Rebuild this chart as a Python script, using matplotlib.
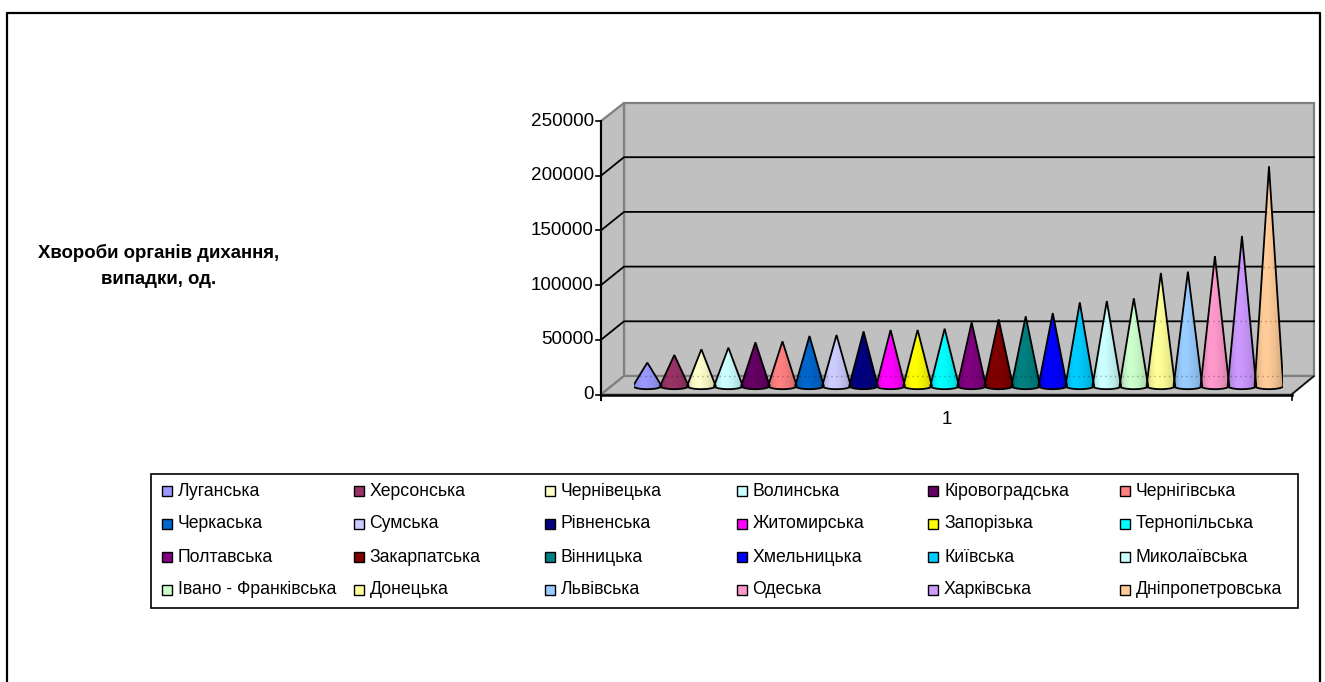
#!/usr/bin/env python3
import numpy as np
import matplotlib
matplotlib.use('Agg')
import matplotlib.pyplot as plt
from matplotlib.colors import to_rgb
from matplotlib.patches import Polygon, Rectangle

plt.rcParams['font.family'] = ['Liberation Sans', 'DejaVu Sans']

regions = ['Луганська', 'Херсонська', 'Чернівецька', 'Волинська', 'Кіровоградська', 'Чернігівська',
           'Черкаська', 'Сумська', 'Рівненська', 'Житомирська', 'Запорізька', 'Тернопільська',
           'Полтавська', 'Закарпатська', 'Вінницька', 'Хмельницька', 'Київська', 'Миколаївська',
           'Івано - Франківська', 'Донецька', 'Львівська', 'Одеська', 'Харківська', 'Дніпропетровська']
cases = [21400, 28400, 33600, 35100, 40000, 40900,
         45800, 46700, 50000, 51300, 51300, 52500,
         58300, 61000, 63800, 66800, 76600, 77800,
         80300, 103500, 104700, 119000, 137400, 201200]
colors = ['#9999ff', '#993366', '#ffffcc', '#ccffff', '#660066', '#ff8080',
          '#0066cc', '#ccccff', '#000080', '#ff00ff', '#ffff00', '#00ffff',
          '#800080', '#800000', '#008080', '#0000ff', '#00ccff', '#ccffff',
          '#ccffcc', '#ffff99', '#99ccff', '#ff99cc', '#cc99ff', '#ffcc99']
y_ticks = [0, 50000, 100000, 150000, 200000, 250000]
title_lines = ['Хвороби органів дихання,', 'випадки, од.']

W, H = 1325, 682
fig = plt.figure(figsize=(W / 100, H / 100), dpi=100, facecolor='white')

# pixel canvas for the frame, the 3d box and the legend
bg = fig.add_axes([0, 0, 1, 1])
bg.set_xlim(0, W)
bg.set_ylim(H, 0)
bg.axis('off')

bg.plot([7, 7, 1320, 1320], [H + 5, 13, 13, H + 5], color='black', lw=1.6)

# walls and floor
grey = '#c0c0c0'
edge = '#808080'
bg.add_patch(Polygon([(624, 103), (1314, 103), (1314, 376), (624, 376)], fc=grey, ec=edge, lw=1.6))
bg.add_patch(Polygon([(601, 121), (624, 103), (624, 376), (601, 394.5)], fc=grey, ec=edge, lw=1.6))
bg.add_patch(Polygon([(601, 394.5), (624, 376), (1314, 376), (1291.5, 394.5)], fc=grey, ec=edge, lw=1.6))

# value axis, gridlines go along the side wall and the back wall
y0, px_per = 394.5, (394.5 - 121) / y_ticks[-1]
for v in y_ticks:
    y = y0 - v * px_per
    bg.plot([596, 601], [y, y], color='black', lw=1.2)
    bg.text(594, y, str(v), ha='right', va='center', fontsize=13.6)
    if 0 < v < y_ticks[-1]:
        bg.plot([601, 624, 1314], [y, y - 18.5, y - 18.5], color='black', lw=1.3)
bg.plot([601, 601], [121, 400], color='black', lw=1.5)
bg.plot([601, 1291.5], [394.5, 394.5], color='black', lw=1.8)
bg.plot([1291.5, 1291.5], [394.5, 400], color='black', lw=1.2)
bg.plot([1291.5, 1314], [394.5, 376], color='black', lw=1)
bg.text(947, 419, '1', ha='center', va='center', fontsize=13.6)

# title block on the left
for line, y in zip(title_lines, [253, 279]):
    bg.text(159, y, line, ha='center', va='center', fontsize=13.4, fontweight='bold')

# legend
bg.add_patch(Rectangle((150.5, 474), 1147, 134, fc='white', ec='black', lw=1.2))
for i, (name, col) in enumerate(zip(regions, colors)):
    r, c = divmod(i, 6)
    x = 162 + c * 191.5
    y = 491 + r * 33
    bg.add_patch(Rectangle((x, y - 5), 10, 10, fc=col, ec='black', lw=1))
    bg.text(x + 16, y, name, ha='left', va='center', fontsize=12.7)

# cones, in data coordinates: x is rank, y is number of cases
y_low = -6000
base_px = 386
ax_h = 273 * (y_ticks[-1] - y_low) / y_ticks[-1]
ax = fig.add_axes([633.8 / W, 1 - (base_px + 273 * -y_low / y_ticks[-1]) / H, (1282.5 - 633.8) / W, ax_h / H])
ax.axis('off')
ax.patch.set_alpha(0)

half_w = 0.53
foot = 2900
shade = np.array([0.80, 0.93, 1.0, 1.0, 0.97, 0.93, 0.87, 0.76])
grad = np.interp(np.linspace(0, 1, 64), np.linspace(0, 1, len(shade)), shade)
for i, (val, col) in enumerate(zip(cases, colors)):
    t = np.linspace(np.pi, 2 * np.pi, 30)
    xs = np.r_[i, i + half_w * np.cos(t)]
    ys = np.r_[val, foot * np.sin(t)]
    img = np.clip(np.outer(grad, to_rgb(col)), 0, 1)[None, :, :]
    im = ax.imshow(img, extent=(i - half_w, i + half_w, -foot, val), aspect='auto',
                   interpolation='bilinear', zorder=2)
    cone = Polygon(np.c_[xs, ys], closed=True, fc='none', ec='black', lw=1.3, zorder=3)
    ax.add_patch(cone)
    im.set_clip_path(cone)

    # back gridlines show through the cones as faint dots
    lift = 10 / px_per
    for v in y_ticks[:-1]:
        level = v + lift
        if level < val:
            hw = half_w * (1 - level / val) * 0.9
            ax.plot([i - hw, i + hw], [level, level], color='black', lw=1,
                    ls=(0, (1, 2.5)), alpha=0.3, zorder=4)
ax.set_xlim(-0.5, 23.5)
ax.set_ylim(y_low, y_ticks[-1])

fig.savefig('out.png', dpi=100)
